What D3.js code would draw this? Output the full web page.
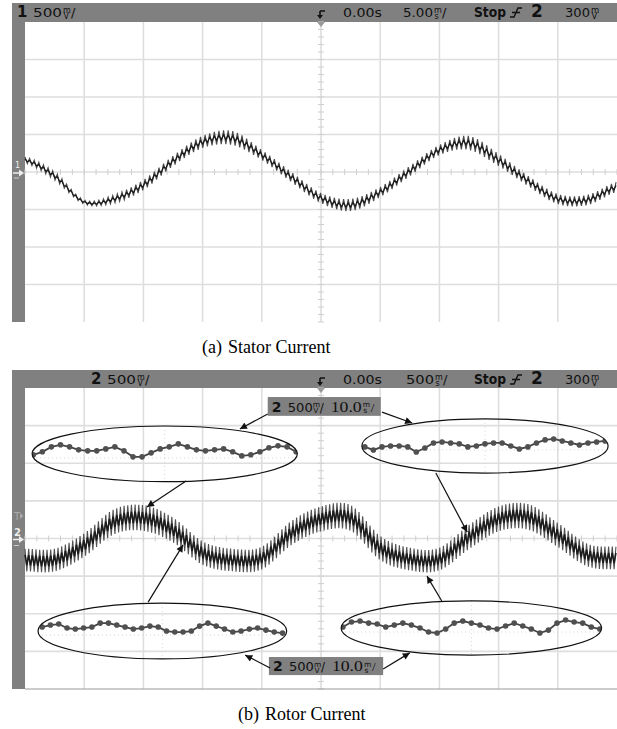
<!DOCTYPE html>
<html>
<head>
<meta charset="utf-8">
<script src="https://cdn.jsdelivr.net/npm/d3@7"></script>
<style>
  body { margin: 0; background: #fff; }
  text { font-family: "DejaVu Sans", "Liberation Sans", sans-serif; }
</style>
</head>
<body>
<div id="chart"></div>
<script>
// ---- data read off the scope captures ----
// stator current, 5 ms/div, 500 mV/div, sampled every half division
var statorTime = [-25, -22.5, -20, -17.5, -15, -12.5, -10, -7.5, -5, -2.5, 0,
                  2.5, 5, 7.5, 10, 12.5, 15, 17.5, 20, 22.5, 25];
var statorMv = [160, -53, -400, -360, -173, 147, 400, 453, 227, -67, -347,
                -440, -267, 13, 293, 387, 160, -120, -360, -373, -200];
// half width of the switching ripple band (mV)
var statorRipple = [40, 53, 27, 53, 67, 67, 80, 93, 67, 67, 67,
                    80, 67, 67, 67, 93, 80, 67, 67, 67, 67];
var statorRipplePeriod = 0.39; // ms

// rotor current, 500 ms/div, 500 mV/div
var rotorTime = [-2500, -2250, -2000, -1750, -1500, -1250, -1000, -750, -500, -250, 0,
                 250, 500, 750, 1000, 1250, 1500, 1750, 2000, 2250, 2500];
var rotorMv = [-286, -286, -87, 220, 273, 113, -193, -286, -260, 73, 260,
               273, -127, -273, -273, 20, 260, 287, 47, -220, -260];
var rotorRipple = [150, 150, 155, 165, 170, 165, 155, 150, 150, 160, 165,
                   170, 160, 150, 150, 160, 165, 170, 160, 150, 150];
var rotorRipplePeriod = 31; // ms

// zoomed views (10 ms/div), offsets from the view centre in mV
var insetTopLeft = [-13, 27, 93, 120, 93, 53, 40, 40, 66, 93, 40, -40, -40, 13, 66,
                    93, 133, 93, 53, 40, 53, 66, 27, -27, -13, 27, 80, 106, 93, 27];
var insetTopRight = [-13, -53, -13, 0, 0, -13, -80, -27, 40, 53, 40, 27, -13, 0, 27,
                     40, 40, 0, -40, -13, 40, 80, 93, 66, 40, 13, 40, 53, 66];
var insetBottomLeft = [53, 80, 93, 40, 27, 40, 53, 106, 106, 80, 53, 27, 40, 66, 53,
                       0, -13, -13, 0, 66, 106, 66, 27, -13, 0, 27, 40, 13, -13, -27];
var insetBottomRight = [13, 80, 93, 66, 53, 13, 40, 66, 40, 0, -53, -66, -13, 66, 93,
                        66, 40, 0, -13, 27, 66, 27, -13, -66, -27, 66, 106, 80, 66, 13, -13];

// ---- layout ----
var W = 617, H = 729;
var svg = d3.select("#chart").append("svg").attr("width", W).attr("height", H);

var gray = "#808080";
var plotL = 25, plotR = 617;

var xDiv = d3.scaleLinear().domain([-5, 5]).range([plotL, plotR]);

function catmull(vals, u) {
  var n = vals.length;
  var i = Math.max(0, Math.min(Math.floor(u), n - 2)), f = u - i;
  var p0 = vals[Math.max(i - 1, 0)], p1 = vals[i], p2 = vals[i + 1], p3 = vals[Math.min(i + 2, n - 1)];
  return 0.5 * (2 * p1 + (-p0 + p2) * f + (2 * p0 - 5 * p1 + 4 * p2 - p3) * f * f +
    (-p0 + 3 * p1 - 3 * p2 + p3) * f * f * f);
}

// zig-zag across the ripple band
function ripplePoints(times, vals, rip, period, k) {
  var pts = [], t0 = times[0], dt = times[1] - times[0], tEnd = times[times.length - 1], s = 1;
  for (var t = t0; t <= tEnd + 1e-9; t += period / 2) {
    var u = (t - t0) / dt;
    pts.push([t, catmull(vals, u) + s * k * catmull(rip, u)]);
    s = -s;
  }
  return pts;
}

// one <text> made of positioned pieces; a stacked unit is two small pieces
function label(g, y, parts) {
  var t = g.append("text").attr("fill", "#111");
  parts.forEach(function (p) {
    var dy = p.up ? -4.5 : p.down ? 1.5 : 0;
    var s = t.append("tspan").attr("x", p.x).attr("y", y + dy).attr("font-size", p.size || 13).text(p.s);
    if (p.w) s.attr("textLength", p.w).attr("lengthAdjust", "spacingAndGlyphs");
    if (p.bold) s.attr("font-weight", "bold");
    if (p.serif) s.style("font-family", "'Liberation Serif', serif");
  });
  return t;
}
function stacked(x, top, bot, size) {
  return [{ x: x, s: top, size: size || 8, up: true }, { x: x + 0.5, s: bot, size: size || 8, down: true }];
}

function trigIcon(g, x, y) {
  g.append("path").attr("d", "M" + (x + 2) + "," + (y - 6) + "H" + (x + 7) + "M" + (x + 2) + "," + (y - 6) + "V" + (y - 1))
    .attr("stroke", "#111").attr("stroke-width", 1.6).attr("fill", "none");
  g.append("path").attr("d", "M" + (x - 1) + "," + (y - 2) + "L" + (x + 5) + "," + (y - 2) + "L" + (x + 2) + "," + (y + 2) + "Z")
    .attr("fill", "#111");
}

function slopeIcon(g, x, y) {
  g.append("path").attr("d", "M" + x + "," + y + "H" + (x + 4) + "L" + (x + 8) + "," + (y - 9) + "H" + (x + 12) +
      "M" + (x + 2) + "," + (y - 4.5) + "H" + (x + 10))
    .attr("stroke", "#111").attr("stroke-width", 1.4).attr("fill", "none");
}

function panel(cfg) {
  var g = svg.append("g");
  var y = d3.scaleLinear().domain([-2000, 2000]).range([cfg.y1, cfg.y0]);
  var x = d3.scaleLinear().domain(cfg.xDomain).range([plotL, plotR]);
  var yDiv = d3.scaleLinear().domain([-4, 4]).range([cfg.y1, cfg.y0]);
  var yc = yDiv(0), xc = xDiv(0);

  // frame
  g.append("rect").attr("x", 12).attr("y", cfg.head).attr("width", plotR - 12).attr("height", cfg.y0 - cfg.head).attr("fill", gray);
  g.append("rect").attr("x", 12).attr("y", cfg.head).attr("width", plotL - 12).attr("height", cfg.y1 - cfg.head).attr("fill", gray);

  // grid
  var grid = g.append("g").attr("stroke", "#dedede").attr("stroke-width", 1.6);
  grid.selectAll(".v").data(d3.range(-4, 5)).join("line")
    .attr("x1", d => xDiv(d)).attr("x2", d => xDiv(d)).attr("y1", cfg.y0).attr("y2", cfg.y1);
  grid.selectAll(".h").data(d3.range(-3, 4)).join("line")
    .attr("y1", d => yDiv(d)).attr("y2", d => yDiv(d)).attr("x1", plotL).attr("x2", plotR);
  var ticks = g.append("g").attr("stroke", "#cfcfcf").attr("stroke-width", 1);
  ticks.selectAll(".tx").data(d3.range(-25, 26)).join("line")
    .attr("x1", d => xDiv(d / 5)).attr("x2", d => xDiv(d / 5))
    .attr("y1", yc - 3).attr("y2", yc + 3);
  ticks.selectAll(".ty").data(d3.range(-20, 21)).join("line")
    .attr("y1", d => yDiv(d / 5)).attr("y2", d => yDiv(d / 5))
    .attr("x1", xc - 3).attr("x2", xc + 3);
  if (cfg.border) {
    g.append("line").attr("x1", plotL).attr("x2", plotR).attr("y1", cfg.y1).attr("y2", cfg.y1)
      .attr("stroke", "#999").attr("stroke-width", 1.2);
  }
  // trigger position marker
  g.append("path").attr("d", "M" + (xc - 4) + "," + cfg.y0 + "L" + (xc + 4) + "," + cfg.y0 + "L" + xc + "," + (cfg.y0 + 5) + "Z")
    .attr("fill", "#9a9a9a");

  // header
  var hb = cfg.head + 14;
  var h = g.append("g");
  label(h, hb, [{ x: cfg.chX, s: cfg.ch, size: 15, bold: true }, { x: cfg.chX + 16, s: "500", w: 29 }]
    .concat(stacked(cfg.chX + 46, "m", "V"), [{ x: cfg.chX + 54, s: "/" }]));
  trigIcon(h, 318, hb);
  label(h, hb, [{ x: 343, s: "0.00s", w: 39 }]);
  label(h, hb, [{ x: cfg.tbX, s: cfg.tb, w: cfg.tbW }]
    .concat(stacked(cfg.tbX + cfg.tbW + 1, "m", "s"), [{ x: cfg.tbX + cfg.tbW + 9, s: "/" }]));
  label(h, hb, [{ x: 474, s: "Stop", size: 14, w: 32, bold: true }]);
  slopeIcon(h, 510, hb);
  label(h, hb, [{ x: 531, s: "2", size: 17, bold: true }]);
  label(h, hb, [{ x: 565, s: "300", w: 25 }].concat(stacked(591, "m", "V", 8.5)));

  return { g: g, x: x, y: y, yDiv: yDiv, yc: yc };
}

// ---- (a) stator ----
var pa = panel({ head: 3, y0: 22, y1: 322, xDomain: [-25, 25], ch: "1", chX: 17, tb: "5.00", tbX: 403, tbW: 30 });

// ground marker for channel 1
pa.g.append("text").attr("x", 15).attr("y", pa.yc - 4).attr("font-size", 8).attr("fill", "#eee").text("1");
pa.g.append("path").attr("d", "M13," + (pa.yc + 1) + "H20").attr("stroke", "#eee").attr("stroke-width", 1.5);
pa.g.append("path").attr("d", "M19," + (pa.yc - 2.5) + "L24," + (pa.yc + 1) + "L19," + (pa.yc + 4.5) + "Z").attr("fill", "#eee");
pa.g.append("path").attr("d", "M14," + (pa.yc + 6) + "H19").attr("stroke", "#ccc").attr("stroke-width", 1);

var lineA = d3.line().x(d => pa.x(d[0])).y(d => pa.y(d[1]));
pa.g.append("path")
  .attr("d", lineA(ripplePoints(statorTime, statorMv, statorRipple, statorRipplePeriod, 1)))
  .attr("fill", "none").attr("stroke", "#4a4a4a").attr("stroke-width", 1.1);
pa.g.append("path")
  .attr("d", lineA(ripplePoints(statorTime, statorMv, statorRipple, statorRipplePeriod, 0.35)))
  .attr("fill", "none").attr("stroke", "#1a1a1a").attr("stroke-width", 1.3);

svg.append("text").attr("x", 202).attr("y", 353).attr("font-size", 18)
  .style("font-family", "'Liberation Serif', 'Times New Roman', serif")
  .text("(a)").append("tspan").attr("dx", 6).text("Stator Current");

// ---- (b) rotor ----
var pb = panel({ head: 370, y0: 388, y1: 689, xDomain: [-2500, 2500], ch: "2", chX: 91, tb: "500", tbX: 406, tbW: 28, border: true });

pb.g.append("text").attr("x", 14).attr("y", pb.yDiv(0.6) + 4).attr("font-size", 10).attr("fill", "#aaa").text("T");
pb.g.append("path").attr("d", "M20," + (pb.yDiv(0.6) - 3) + "L23.5," + pb.yDiv(0.6) + "L20," + (pb.yDiv(0.6) + 3) + "Z").attr("fill", "#aaa");
pb.g.append("text").attr("x", 14).attr("y", pb.yc - 3).attr("font-size", 10).attr("font-weight", "bold").attr("fill", "#eee").text("2");
pb.g.append("path").attr("d", "M13," + (pb.yc + 1) + "H20").attr("stroke", "#eee").attr("stroke-width", 1.5);
pb.g.append("path").attr("d", "M19," + (pb.yc - 2.5) + "L24," + (pb.yc + 1) + "L19," + (pb.yc + 4.5) + "Z").attr("fill", "#eee");
pb.g.append("path").attr("d", "M14," + (pb.yc + 7) + "H19").attr("stroke", "#ccc").attr("stroke-width", 1);

var lineB = d3.line().x(d => pb.x(d[0])).y(d => pb.y(d[1]));
pb.g.append("path")
  .attr("d", lineB(ripplePoints(rotorTime, rotorMv, rotorRipple, rotorRipplePeriod, 1)))
  .attr("fill", "none").attr("stroke", "#505050").attr("stroke-width", 1.1);
pb.g.append("path")
  .attr("d", lineB(ripplePoints(rotorTime, rotorMv, rotorRipple, rotorRipplePeriod, 0.45)))
  .attr("fill", "none").attr("stroke", "#1c1c1c").attr("stroke-width", 1.6);

// zoom ellipses (grid-division units of the rotor panel)
var insets = [
  { cx: -2.64, cy: 2.25, rx: 2.24, ry: 0.74, vals: insetTopLeft, pad: 0.02 },
  { cx: 2.77, cy: 2.46, rx: 2.08, ry: 0.72, vals: insetTopRight, pad: 0.05 },
  { cx: -2.68, cy: -2.46, rx: 2.10, ry: 0.74, vals: insetBottomLeft, pad: 0.07 },
  { cx: 2.54, cy: -2.38, rx: 2.20, ry: 0.72, vals: insetBottomRight, pad: 0.03 }
];
var divPx = xDiv(1) - xDiv(0), divPy = pb.yDiv(0) - pb.yDiv(1);
var defs = svg.append("defs");
defs.append("marker").attr("id", "ah").attr("viewBox", "0 0 10 10").attr("refX", 10).attr("refY", 5)
  .attr("markerWidth", 9).attr("markerHeight", 7).attr("markerUnits", "userSpaceOnUse").attr("orient", "auto")
  .append("path").attr("d", "M0,0L10,5L0,10Z").attr("fill", "#111");

insets.forEach(function (e, i) {
  var cx = xDiv(e.cx), cy = pb.yDiv(e.cy), rx = e.rx * divPx, ry = e.ry * divPy;
  defs.append("clipPath").attr("id", "clip" + i).append("ellipse")
    .attr("cx", cx).attr("cy", cy).attr("rx", rx).attr("ry", ry);
  var ig = pb.g.append("g").attr("clip-path", "url(#clip" + i + ")");
  var xi = d3.scaleLinear().domain([0, e.vals.length - 1]).range([cx - rx + e.pad * divPx, cx + rx - e.pad * divPx]);
  var yi = d => pb.y(e.cy * 500 + d);
  ig.append("line").attr("x1", cx - rx).attr("x2", cx + rx).attr("y1", cy + 4).attr("y2", cy + 4)
    .attr("stroke", "#d4d4d4").attr("stroke-dasharray", "1,3");
  ig.append("line").attr("x1", cx).attr("x2", cx).attr("y1", cy - ry).attr("y2", cy + ry)
    .attr("stroke", "#d4d4d4").attr("stroke-dasharray", "1,3");
  ig.append("path").datum(e.vals)
    .attr("d", d3.line().x((d, j) => xi(j)).y(yi))
    .attr("fill", "none").attr("stroke", "#444").attr("stroke-width", 1.8);
  ig.selectAll("circle").data(e.vals).join("circle")
    .attr("cx", (d, j) => xi(j)).attr("cy", yi).attr("r", 2.8).attr("fill", "#505050");
  pb.g.append("ellipse").attr("cx", cx).attr("cy", cy).attr("rx", rx).attr("ry", ry)
    .attr("fill", "none").attr("stroke", "#111").attr("stroke-width", 1.2);
});

// zoom setting labels
var labelBoxes = [
  { x0: -0.90, x1: 1.01, y0: 3.76, y1: 3.26 },
  { x0: -0.88, x1: 1.05, y0: -3.15, y1: -3.63 }
];
labelBoxes.forEach(function (b) {
  var x0 = xDiv(b.x0), y0 = pb.yDiv(b.y0), y1 = pb.yDiv(b.y1);
  pb.g.append("rect").attr("x", x0).attr("y", y0).attr("width", xDiv(b.x1) - x0).attr("height", y1 - y0).attr("fill", gray);
  var base = y1 - 4;
  label(pb.g, base, [{ x: x0 + 4, s: "2", size: 14, bold: true }, { x: x0 + 20, s: "500", size: 12, w: 25 }]
    .concat(stacked(x0 + 45, "m", "V", 7.5), [{ x: x0 + 52, s: "/", size: 12 },
      { x: x0 + 63, s: "10.0", size: 14, w: 31, serif: true }],
      stacked(x0 + 95, "m", "s", 7.5), [{ x: x0 + 103, s: "/", size: 13, serif: true }]));
});

// arrows [from, to] in grid divisions
var arrows = [
  [[-0.90, 3.31], [-1.37, 2.91]],
  [[1.03, 3.36], [1.54, 3.07]],
  [[-2.28, 1.53], [-2.94, 0.84]],
  [[1.94, 1.74], [2.47, 0.17]],
  [[-2.92, -1.69], [-2.33, -0.17]],
  [[2.04, -1.66], [1.79, -1.0]],
  [[-0.86, -3.44], [-1.28, -3.10]],
  [[1.05, -3.47], [1.50, -3.04]]
];
pb.g.selectAll(".arrow").data(arrows).join("line")
  .attr("x1", d => xDiv(d[0][0])).attr("y1", d => pb.yDiv(d[0][1]))
  .attr("x2", d => xDiv(d[1][0])).attr("y2", d => pb.yDiv(d[1][1]))
  .attr("stroke", "#111").attr("stroke-width", 1.2).attr("marker-end", "url(#ah)");

svg.append("text").attr("x", 238).attr("y", 720).attr("font-size", 18)
  .style("font-family", "'Liberation Serif', 'Times New Roman', serif")
  .text("(b)").append("tspan").attr("dx", 6).text("Rotor Current");
</script>
</body>
</html>
